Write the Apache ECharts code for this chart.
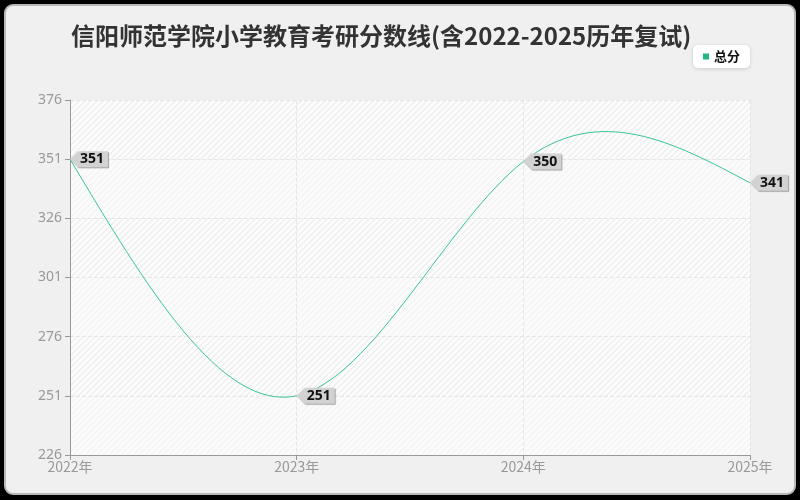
<!DOCTYPE html>
<html>
<head>
<meta charset="utf-8">
<script src="https://cdn.jsdelivr.net/npm/echarts@6/dist/echarts.min.js"></script>
<style>
html,body{margin:0;padding:0;background:#000;width:800px;height:500px;overflow:hidden;}
#panel{position:absolute;left:4px;top:4px;width:788px;height:487px;background:#f0f0f0;border:2px solid #b8b8b8;border-radius:9px;}
#c{position:absolute;left:0;top:0;width:800px;height:500px;}
</style>
</head>
<body>
<div id="panel"></div>
<div id="c"></div>
<script>
var titleText = '信阳师范学院小学教育考研分数线(含2022-2025历年复试)';
var seriesName = '总分';
var categories = ['2022年', '2023年', '2024年', '2025年'];
var values = [351, 251, 350, 341];
var yMin = 226, yMax = 376, yStep = 25;

// second derivatives of a natural cubic spline through the values (unit spacing)
function naturalSplineM(y) {
  var n = y.length, M = new Array(n).fill(0);
  if (n < 3) return M;
  var a = [], b = [], c = [], d = [];
  for (var i = 1; i < n - 1; i++) {
    a.push(1); b.push(4); c.push(1); d.push(6 * (y[i - 1] - 2 * y[i] + y[i + 1]));
  }
  var m = d.length;
  for (var k = 1; k < m; k++) {
    var w = a[k] / b[k - 1];
    b[k] -= w * c[k - 1]; d[k] -= w * d[k - 1];
  }
  var x = new Array(m);
  x[m - 1] = d[m - 1] / b[m - 1];
  for (var k2 = m - 2; k2 >= 0; k2--) x[k2] = (d[k2] - c[k2] * x[k2 + 1]) / b[k2];
  for (var j = 0; j < m; j++) M[j + 1] = x[j];
  return M;
}
var M = naturalSplineM(values);

function makePattern(bg, line) {
  var c = document.createElement('canvas');
  c.width = 6; c.height = 6;
  var g = c.getContext('2d');
  g.fillStyle = bg; g.fillRect(0, 0, 6, 6);
  g.strokeStyle = line; g.lineWidth = 1.2;
  g.beginPath();
  g.moveTo(0, 6); g.lineTo(6, 0);
  g.moveTo(-1, 1); g.lineTo(1, -1);
  g.moveTo(5, 7); g.lineTo(7, 5);
  g.stroke();
  return {image: c, repeat: 'repeat'};
}
var patLight = makePattern('#fbfbfb', '#f3f3f3');
var patStrong = makePattern('#fcfcfc', '#ececec');

var chart = echarts.init(document.getElementById('c'), null, {renderer: 'canvas'});
var lineColor = '#3cc495';

function renderSegment(params, api) {
  var i = params.dataIndex;
  if (i >= values.length - 1) return null;
  var y0 = values[i], y1 = values[i + 1];
  var s0 = (y1 - y0) - (2 * M[i] + M[i + 1]) / 6;   // slope at start
  var s1 = (y1 - y0) + (M[i] + 2 * M[i + 1]) / 6;   // slope at end
  var p0 = api.coord([i, y0]);
  var p3 = api.coord([i + 1, y1]);
  var c1y = api.coord([i, y0 + s0 / 3])[1];
  var c2y = api.coord([i, y1 - s1 / 3])[1];
  var dx = p3[0] - p0[0];
  return {
    type: 'bezierCurve',
    shape: {
      x1: p0[0], y1: p0[1],
      cpx1: p0[0] + dx / 3, cpy1: c1y,
      cpx2: p0[0] + 2 * dx / 3, cpy2: c2y,
      x2: p3[0], y2: p3[1]
    },
    style: {stroke: lineColor, lineWidth: 1, fill: null},
    silent: true
  };
}

var option = {
  backgroundColor: 'transparent',
  title: {
    text: titleText,
    left: 66, top: 19,
    textStyle: {fontFamily: 'Noto Sans CJK SC', fontSize: 24, fontWeight: 'bold', color: '#333'}
  },
  legend: {
    data: [{name: seriesName, icon: 'rect', itemStyle: {color: '#1fb783'}}],
    right: 50, top: 45,
    backgroundColor: '#fff',
    borderRadius: 5,
    padding: [5, 10, 5, 10],
    shadowBlur: 4, shadowColor: 'rgba(0,0,0,0.15)', shadowOffsetY: 1,
    itemWidth: 6, itemHeight: 6, itemGap: 6,
    textStyle: {fontFamily: 'Noto Sans CJK SC', fontSize: 13, fontWeight: 'bold', color: '#111'}
  },
  grid: {left: 70, right: 50, top: 100, bottom: 45, containLabel: false},
  xAxis: {
    type: 'category',
    data: categories,
    boundaryGap: false,
    axisLine: {show: true, lineStyle: {color: '#999'}},
    axisTick: {show: true, alignWithLabel: true, length: 5, lineStyle: {color: '#999'}},
    axisLabel: {color: '#999', fontSize: 14, fontFamily: 'Noto Sans CJK SC', margin: 5},
    splitLine: {show: true, lineStyle: {color: '#e6e6e6', type: 'dashed'}}
  },
  yAxis: {
    type: 'value',
    min: yMin, max: yMax, interval: yStep,
    axisLine: {show: true, lineStyle: {color: '#999'}},
    axisTick: {show: true, length: 5, lineStyle: {color: '#999'}},
    axisLabel: {color: '#999', fontSize: 14, fontFamily: 'Noto Sans', margin: 8},
    splitLine: {show: true, lineStyle: {color: '#e6e6e6', type: 'dashed'}},
    splitArea: {show: true, areaStyle: {color: [patLight, patStrong]}}
  },
  series: [{
    name: seriesName,
    type: 'custom',
    renderItem: renderSegment,
    data: values.map(function (v, i) { return [i, v]; }),
    encode: {x: 0, y: 1},
    color: lineColor,
    z: 3
  }, {
    name: seriesName,
    type: 'line',
    data: values,
    showSymbol: false,
    symbol: 'none',
    color: lineColor,
    lineStyle: {width: 0, opacity: 0},
    z: 4,
    markPoint: {
      symbol: 'path://M0,8 L8,0 L38,0 L38,16 L8,16 Z',
      symbolSize: [38, 16],
      symbolOffset: [19, 0],
      symbolKeepAspect: false,
      itemStyle: {color: '#d2d2d2', shadowColor: 'rgba(0,0,0,0.35)', shadowBlur: 1, shadowOffsetX: 1, shadowOffsetY: 1},
      label: {
        show: true, position: 'inside', offset: [3, 0],
        color: '#111', fontSize: 14, fontWeight: 'bold', fontFamily: 'Noto Sans',
        formatter: function (p) { return p.value; }
      },
      data: values.map(function (v, i) { return {coord: [i, v], value: v}; })
    }
  }]
};
chart.setOption(option);
</script>
</body>
</html>
